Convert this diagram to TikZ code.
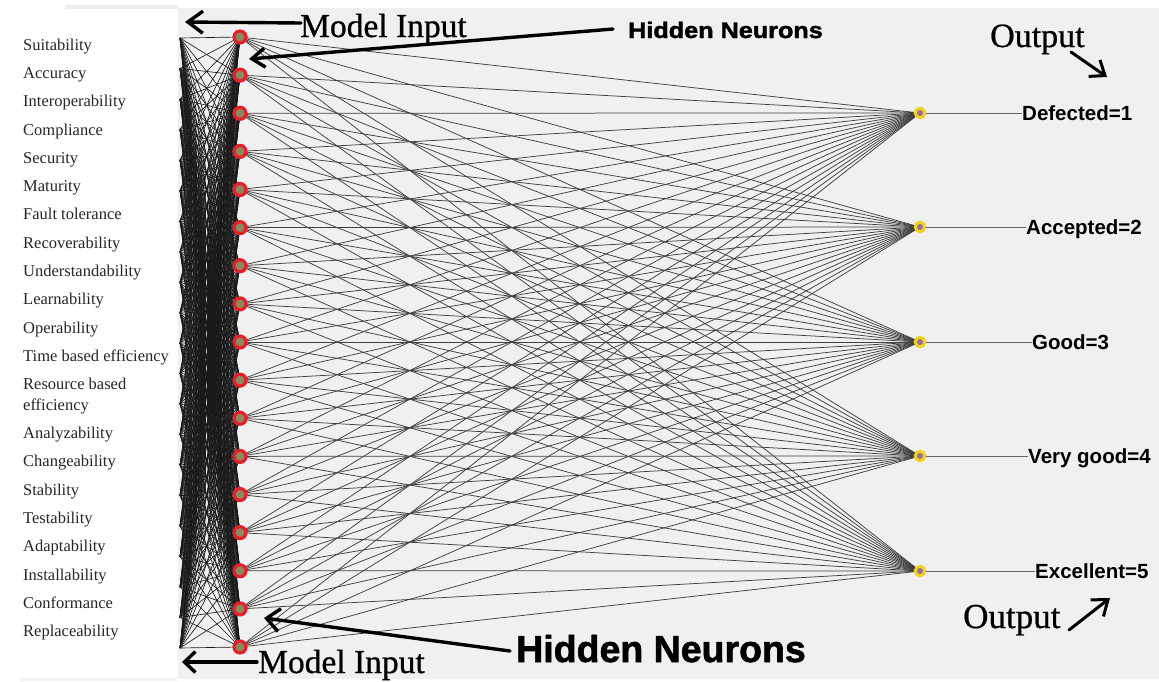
\documentclass[tikz,border=0pt]{standalone}
\usepackage{fontspec}
\setmainfont{Liberation Serif}
\setsansfont{Liberation Sans}
\newfontfamily\blackface[FakeBold=1.6]{Liberation Sans Bold}
\newfontfamily\notefont[FakeBold=0.7]{Liberation Serif}
\usetikzlibrary{arrows.meta}
\definecolor{panel}{HTML}{F0F0F0}
\definecolor{neured}{HTML}{E3202B}
\definecolor{neucore}{HTML}{8A8A5E}
\definecolor{outglow}{HTML}{F2D21E}
\definecolor{outcore}{HTML}{9A6E98}
\begin{document}
\begin{tikzpicture}[x=1pt,y=-1pt,
  wire/.style={draw=black!90, line width=0.65pt},
  hidden/.style={circle, draw=neured, fill=neucore, line width=3.2pt, minimum size=12pt, inner sep=0pt},
  outnode/.style={circle, draw=outglow, fill=outcore, line width=3pt, minimum size=9.5pt, inner sep=0pt},
  lead/.style={draw=black!60, line width=0.9pt},
  feat/.style={anchor=base west, font=\fontsize{16.5}{18}\selectfont, text=black!85, inner sep=0pt},
  cls/.style={anchor=base west, font=\sffamily\bfseries\fontsize{20.5}{23}\selectfont, inner sep=0pt},
  note/.style={anchor=base west, font=\notefont\fontsize{33.5}{36}\selectfont, inner sep=0pt},
  heavy/.style={anchor=base west, font=\blackface, inner sep=0pt},
  pointer/.style={line width=3.4pt, line cap=round, -{Straight Barb[length=15pt, width=22pt]}},
]
\useasboundingbox (0,0) rectangle (1159,681);
% canvas
\fill[white] (0,0) rectangle (1159,681);
\fill[black!7] (65,5) rectangle (178,9);
\fill[black!5] (20,678) rectangle (178,681);
\fill[panel] (178,8) rectangle (1159,679);

% input layer: end points at the panel edge
\foreach \j in {1,...,21} {
  \coordinate (in\j) at (180, {38 + (\j-1)*30.5});
}
% hidden and output layer positions
\foreach \i in {1,...,17} {
  \coordinate (hp\i) at (240, {37 + (\i-1)*38.125});
}
\foreach \k/\yy in {1/113, 2/227, 3/342, 4/456, 5/571} {
  \coordinate (op\k) at (920, \yy);
}

% connections input -> hidden
\foreach \j in {1,...,21} {
  \foreach \i in {1,...,17} {
    \draw[wire] (in\j) -- (hp\i);
  }
}
% connections hidden -> output
\foreach \i in {1,...,17} {
  \foreach \k in {1,...,5} {
    \draw[wire, draw=black!75, line width=0.75pt] (hp\i) -- (op\k);
  }
}

% neurons
\foreach \i in {1,...,17} {
  \node[hidden] (h\i) at (hp\i) {};
}
\foreach \k in {1,...,5} {
  \node[outnode] (o\k) at (op\k) {};
}

% input feature names
\node[feat] (f1)  at (23, 50)  {Suitability};
\node[feat] (f2)  at (23, 78)  {Accuracy};
\node[feat] (f3)  at (23, 106) {Interoperability};
\node[feat] (f4)  at (23, 135) {Compliance};
\node[feat] (f5)  at (23, 163) {Security};
\node[feat] (f6)  at (23, 191) {Maturity};
\node[feat] (f7)  at (23, 219) {Fault tolerance};
\node[feat] (f8)  at (23, 248) {Recoverability};
\node[feat] (f9)  at (23, 276) {Understandability};
\node[feat] (f10) at (23, 304) {Learnability};
\node[feat] (f11) at (23, 333) {Operability};
\node[feat] (f12) at (23, 361) {Time based efficiency};
\node[feat] (f13) at (23, 389) {Resource based};
\node[feat] (f13b) at (23, 410) {efficiency};
\node[feat] (f14) at (23, 438) {Analyzability};
\node[feat] (f15) at (23, 466) {Changeability};
\node[feat] (f16) at (23, 495) {Stability};
\node[feat] (f17) at (23, 523) {Testability};
\node[feat] (f18) at (23, 551) {Adaptability};
\node[feat] (f19) at (23, 580) {Installability};
\node[feat] (f20) at (23, 608) {Conformance};
\node[feat] (f21) at (23, 636) {Replaceability};

% output classes
\node[cls] (c1) at (1022, 120) {Defected=1};
\node[cls] (c2) at (1026, 234) {Accepted=2};
\node[cls] (c3) at (1032, 349) {Good=3};
\node[cls] (c4) at (1028, 463) {Very good=4};
\node[cls] (c5) at (1035, 578) {Excellent=5};
\foreach \k in {1,...,5} {
  \draw[lead] (o\k.east) -- (o\k -| c\k.west);
}

% annotations
\node[note] (mi1) at (300, 37) {Model Input};
\node[note] (mi2) at (258, 673) {Model Input};
\node[note, font=\notefont\fontsize{34}{36}\selectfont] (ot1) at (990, 47) {Output};
\node[note, font=\notefont\fontsize{35}{37}\selectfont] (ot2) at (963, 628) {Output};
\node[heavy] (hn1) at (628, 38) {\scalebox{1.12}[1]{\fontsize{22.5}{24}\selectfont Hidden Neurons}};
\node[heavy] (hn2) at (516, 662) {\fontsize{37.5}{40}\selectfont Hidden Neurons};

\coordinate (a1s) at (301, 23);  \coordinate (a1e) at (185, 22);
\coordinate (a2s) at (613, 29);  \coordinate (a2e) at (249, 59);
\coordinate (a3s) at (510, 651); \coordinate (a3e) at (264, 618);
\coordinate (a4s) at (257, 662); \coordinate (a4e) at (182, 662);
\coordinate (a5s) at (1071, 52); \coordinate (a5e) at (1107, 77);
\coordinate (a6s) at (1069, 630); \coordinate (a6e) at (1110, 598);

\draw[pointer] (a1s) -- (a1e);
\draw[pointer, -{Straight Barb[length=13pt, width=19pt]}] (a2s) -- (a2e);
\draw[pointer, -{Straight Barb[length=13pt, width=23pt]}] (a3s) -- (a3e);
\draw[pointer, -{Straight Barb[length=11pt, width=21pt]}] (a4s) -- (a4e);
\draw[pointer, line width=3pt, -{Straight Barb[length=13pt, width=20pt]}] (a5s) -- (a5e);
\draw[pointer, line width=3pt, -{Straight Barb[length=14pt, width=21pt]}] (a6s) -- (a6e);
\end{tikzpicture}
\end{document}
